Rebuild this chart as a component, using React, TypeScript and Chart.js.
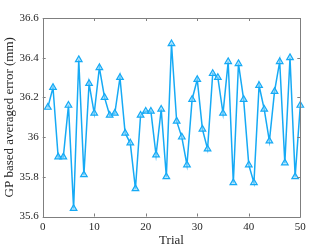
import React, { useEffect, useRef } from "react";
import { Chart, registerables } from "chart.js";

Chart.register(...registerables);

const trials: number[] = Array.from({ length: 50 }, (_, i) => i + 1);
const errors: number[] = [
  36.15, 36.25, 35.9, 35.9, 36.16, 35.64, 36.39, 35.81, 36.27, 36.12,
  36.35, 36.2, 36.11, 36.12, 36.3, 36.02, 35.97, 35.74, 36.11, 36.13,
  36.13, 35.91, 36.14, 35.8, 36.47, 36.08, 36.0, 35.86, 36.19, 36.29,
  36.04, 35.94, 36.32, 36.3, 36.12, 36.38, 35.77, 36.37, 36.19, 35.86,
  35.77, 36.26, 36.14, 35.98, 36.23, 36.38, 35.87, 36.4, 35.8, 36.16,
];
const xTicks: number[] = [0, 10, 20, 30, 40, 50];
const yTicks: number[] = [35.6, 35.8, 36, 36.2, 36.4, 36.6];

const LINE = "rgb(22,170,245)";
const AXIS = "#7f7f7f";
const TEXT = "#262626";
const FONT = "'Liberation Serif', 'Times New Roman', serif";

const boxPlugin = {
  id: "matlabBox",
  afterDatasetsDraw(chart: any) {
    const { ctx, chartArea, scales } = chart;
    const { left, right, top, bottom } = chartArea;
    const x = scales.x;
    const y = scales.y;
    ctx.save();
    ctx.strokeStyle = AXIS;
    ctx.lineWidth = 1;
    ctx.beginPath();
    ctx.rect(Math.round(left) + 0.5, Math.round(top) + 0.5, Math.round(right) - Math.round(left), Math.round(bottom) - Math.round(top));
    ctx.stroke();
    const tl = 3;
    ctx.beginPath();
    for (const v of xTicks) {
      const px = Math.round(x.getPixelForValue(v)) + 0.5;
      ctx.moveTo(px, bottom);
      ctx.lineTo(px, bottom - tl);
      ctx.moveTo(px, top);
      ctx.lineTo(px, top + tl);
    }
    for (const v of yTicks) {
      const py = Math.round(y.getPixelForValue(v)) + 0.5;
      ctx.moveTo(left, py);
      ctx.lineTo(left + tl, py);
      ctx.moveTo(right, py);
      ctx.lineTo(right - tl, py);
    }
    ctx.stroke();
    ctx.restore();
  },
};

export default function App() {
  const ref = useRef<HTMLCanvasElement | null>(null);
  useEffect(() => {
    if (!ref.current) return;
    const chart = new Chart(ref.current, {
      type: "line",
      data: {
        datasets: [
          {
            data: trials.map((t, i) => ({ x: t, y: errors[i] })),
            borderColor: LINE,
            borderWidth: 1.5,
            backgroundColor: "rgba(120,205,250,0.45)",
            pointStyle: "triangle",
            pointRadius: 3.8,
            pointBorderWidth: 1.2,
            pointBorderColor: LINE,
            pointBackgroundColor: "rgba(140,215,252,0.6)",
            tension: 0,
            clip: false as any,
          },
        ],
      },
      options: {
        responsive: false,
        animation: false,
        devicePixelRatio: 1,
        layout: { padding: { top: 18, right: 31.7, left: 0, bottom: 0 } },
        plugins: { legend: { display: false }, tooltip: { enabled: false } },
        scales: {
          x: {
            type: "linear",
            min: 0,
            max: 50,
            grid: { display: false, drawTicks: false },
            border: { display: false },
            afterBuildTicks: (s: any) => {
              s.ticks = xTicks.map((v) => ({ value: v }));
            },
            afterFit: (s: any) => {
              s.height = 32.5;
            },
            ticks: {
              color: TEXT,
              font: { family: FONT, size: 11 },
              padding: 4,
              maxRotation: 0,
              callback: (v: any) => String(v),
            },
            title: {
              display: true,
              text: "Trial",
              color: TEXT,
              font: { family: FONT, size: 13 },
              padding: { top: 0, bottom: 1 },
            },
          },
          y: {
            type: "linear",
            min: 35.6,
            max: 36.6,
            grid: { display: false, drawTicks: false },
            border: { display: false },
            afterBuildTicks: (s: any) => {
              s.ticks = yTicks.map((v) => ({ value: v }));
            },
            afterFit: (s: any) => {
              s.width = 42.7;
            },
            ticks: {
              color: TEXT,
              font: { family: FONT, size: 11 },
              padding: 4,
              callback: (v: any) => String(Number(Number(v).toFixed(1))),
            },
            title: {
              display: true,
              text: "GP based averaged error (mm)",
              color: TEXT,
              font: { family: FONT, size: 13 },
              padding: { top: 2, bottom: 0 },
            },
          },
        },
      },
      plugins: [boxPlugin],
    });
    return () => chart.destroy();
  }, []);
  return (
    <div style={{ position: "fixed", left: 0, top: 0, width: 332, height: 249, background: "#fff" }}>
      <canvas ref={ref} width={332} height={249} style={{ display: "block" }} />
    </div>
  );
}
